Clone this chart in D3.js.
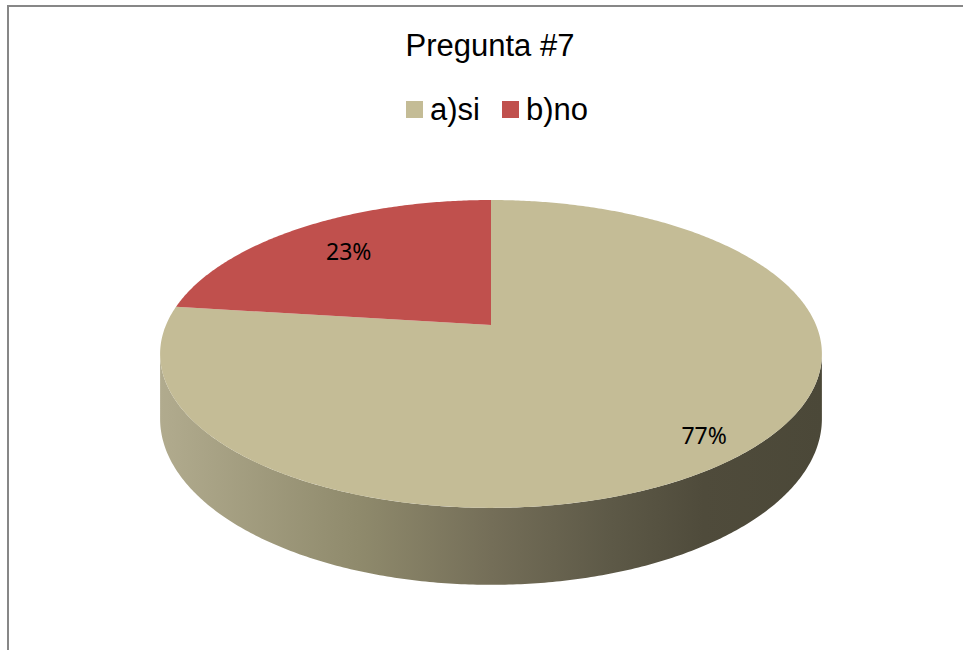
<!DOCTYPE html>
<html>
<head>
<meta charset="utf-8">
<script src="https://cdn.jsdelivr.net/npm/d3@7/dist/d3.min.js"></script>
<style>
  body { margin: 0; background: #fff; }
  svg { display: block; }
</style>
</head>
<body>
<div id="chart"></div>
<script>
var categories = ["a)si", "b)no"];
var values = [77, 23];
var labels = ["77%", "23%"];
var colors = ["#c4bc96", "#c0504d"];
var title = "Pregunta #7";

var w = 963, h = 650;
var svg = d3.select("#chart").append("svg").attr("width", w).attr("height", h);

// chart border (right/bottom fall outside the picture)
svg.append("rect")
  .attr("x", 8).attr("y", 6)
  .attr("width", 1000).attr("height", 1000)
  .attr("fill", "none")
  .attr("stroke", "#878787")
  .attr("stroke-width", 2);

svg.append("text")
  .attr("x", 490).attr("y", 56)
  .attr("text-anchor", "middle")
  .style("font-family", "'Liberation Sans', Arial, sans-serif")
  .style("font-size", "31px")
  .style("fill", "#000")
  .text(title);

// legend
var legendX = [406, 502];
var legend = svg.append("g").selectAll("g")
  .data(categories)
  .enter().append("g")
  .attr("transform", function(d, i) { return "translate(" + legendX[i] + ",101)"; });
legend.append("rect")
  .attr("width", 17).attr("height", 17)
  .attr("fill", function(d, i) { return colors[i]; });
legend.append("text")
  .attr("x", 24).attr("y", 19)
  .style("font-family", "'Liberation Sans', Arial, sans-serif")
  .style("font-size", "31px")
  .text(function(d) { return d; });

/*---------------- 3D pie projection ----------------*/
var cx = 491, cy = 325;
var kx = 325, ky = 148.5, persp = 0.188, depth = 62.5;

// theta: clockwise from 12 o'clock, r: 0..1, level 0 = top, 1 = bottom
function project(theta, r, level) {
  var X = Math.sin(theta) * r, Z = Math.cos(theta) * r;
  var q = 1 + persp * Z;
  return [cx + kx * X / q, cy + (-ky * Z + depth * level) / q];
}

function arcPoints(a0, a1, level) {
  var n = Math.max(2, Math.ceil(Math.abs(a1 - a0) / 0.01));
  return d3.range(n + 1).map(function(i) {
    return project(a0 + (a1 - a0) * i / n, 1, level);
  });
}

var pie = d3.pie().sort(null).startAngle(0).endAngle(2 * Math.PI);
var arcs = pie(values);
var line = d3.line();

var defs = svg.append("defs");
var grad = defs.append("linearGradient")
  .attr("id", "sideGrad")
  .attr("gradientUnits", "userSpaceOnUse")
  .attr("x1", 160).attr("x2", 823).attr("y1", 0).attr("y2", 0);
[[0, "#b1ab8e"], [0.3, "#8f8a6c"], [0.5, "#746e58"], [0.68, "#5d5947"], [0.82, "#4f4b3b"], [1, "#4b4838"]]
  .forEach(function(s) {
    grad.append("stop").attr("offset", s[0]).attr("stop-color", s[1]);
  });

// visible side wall between the silhouette angles
var sil = Math.acos(-persp);
var sideTop = arcPoints(sil, 2 * Math.PI - sil, 0);
var sideBottom = arcPoints(2 * Math.PI - sil, sil, 1);
svg.append("path")
  .attr("d", line(sideTop.concat(sideBottom)) + "Z")
  .attr("fill", "url(#sideGrad)");

// top faces
svg.append("g").selectAll("path")
  .data(arcs)
  .enter().append("path")
  .attr("d", function(d) {
    var pts = [project(0, 0, 0)].concat(arcPoints(d.startAngle, d.endAngle, 0));
    return line(pts) + "Z";
  })
  .attr("fill", function(d, i) { return colors[i]; });

// data labels
var labelR = [0.87, 0.73];
svg.append("g").selectAll("text")
  .data(arcs)
  .enter().append("text")
  .attr("transform", function(d, i) {
    var p = project((d.startAngle + d.endAngle) / 2, labelR[i], 0);
    return "translate(" + p[0] + "," + p[1] + ")";
  })
  .attr("text-anchor", "middle")
  .attr("dy", "0.36em")
  .style("font-family", "'Noto Sans', 'Open Sans', sans-serif")
  .style("font-size", "23px")
  .style("fill", "#000")
  .text(function(d, i) { return labels[i]; });
</script>
</body>
</html>
